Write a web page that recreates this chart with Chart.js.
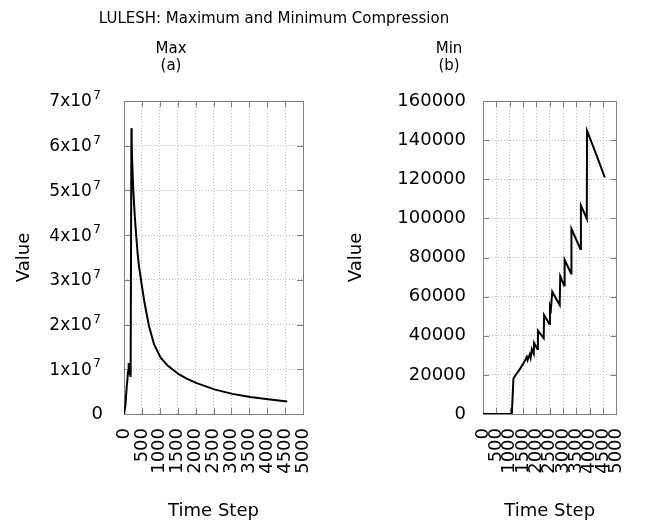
<!DOCTYPE html>
<html>
<head>
<meta charset="utf-8">
<title>LULESH: Maximum and Minimum Compression</title>
<script src="https://cdn.jsdelivr.net/npm/chart.js@4"></script>
<style>
  body { margin: 0; background: #fff; }
  #wrap { position: relative; width: 652px; height: 522px; font-family: "DejaVu Sans", sans-serif; }
  #mainTitle { position: absolute; left: 0; top: 11px; width: 548px; text-align: center; font-size: 15px; line-height: 15px; color: #000; }
  #maxChart { position: absolute; left: 0; top: 0; }
  #minChart { position: absolute; left: 246px; top: 0; }
</style>
</head>
<body>
<div id="wrap">
  <canvas id="maxChart" width="342" height="522"></canvas>
  <canvas id="minChart" width="406" height="522"></canvas>
  <div id="mainTitle">LULESH: Maximum and Minimum Compression</div>
</div>
<script>
// tick labels
const xTicks = [0, 500, 1000, 1500, 2000, 2500, 3000, 3500, 4000, 4500, 5000];
const maxTicks = [0, 1e7, 2e7, 3e7, 4e7, 5e7, 6e7, 7e7];
const minTicks = [0, 20000, 40000, 60000, 80000, 100000, 120000, 140000, 160000];

// (a) Max compression
const maxSteps = [0, 40, 75, 95, 112, 130, 150, 165, 185, 207, 212, 218, 230, 260, 295, 330, 380, 419, 512, 577, 698, 838, 1024, 1210, 1527, 1750, 2030, 2523, 3026, 3528, 4022, 4560];
const maxValues = [0, 2.0e6, 6.0e6, 7.7e6, 9.5e6, 1.14e7, 9.0e6, 1.02e7, 8.3e6, 6.39e7, 5.8e7, 6.05e7, 5.6e7, 5.0e7, 4.5e7, 4.1e7, 3.6e7, 3.3e7, 2.8e7, 2.47e7, 1.97e7, 1.56e7, 1.26e7, 1.09e7, 8.9e6, 7.9e6, 6.9e6, 5.5e6, 4.5e6, 3.8e6, 3.3e6, 2.8e6];

// (b) Min compression
const minSteps = [0, 1080, 1140, 1210, 1370, 1510, 1590, 1640, 1670, 1750, 1785, 1830, 1900, 1915, 2040, 2060, 2275, 2290, 2490, 2510, 2545, 2595, 2875, 2895, 3040, 3060, 3300, 3315, 3650, 3670, 3890, 3900, 4240, 4565];
const minValues = [0, 0, 18000, 19700, 22700, 25800, 27800, 29200, 27500, 30400, 28700, 33000, 30800, 36300, 33200, 42600, 38800, 50600, 46000, 55000, 53500, 62500, 55700, 70400, 65700, 78800, 71800, 94700, 84400, 106600, 99800, 144800, 132800, 120900];

Chart.defaults.font.family = "'DejaVu Sans', sans-serif";
Chart.defaults.color = "#000";

function toPoints(xs, ys) {
  return xs.map((x, i) => ({ x: x, y: ys[i] }));
}

// gnuplot-like frame with inward tick marks
const framePlugin = {
  id: "frame",
  beforeDatasetsDraw(chart) {
    const { ctx, chartArea: a, scales } = chart;
    ctx.save();
    ctx.strokeStyle = "#808080";
    ctx.lineWidth = 1;
    ctx.beginPath();
    scales.x.ticks.forEach(t => {
      const px = Math.round(scales.x.getPixelForValue(t.value)) + 0.5;
      ctx.moveTo(px, a.bottom); ctx.lineTo(px, a.bottom - 6);
      ctx.moveTo(px, a.top); ctx.lineTo(px, a.top + 6);
    });
    scales.y.ticks.forEach(t => {
      const py = Math.round(scales.y.getPixelForValue(t.value)) + 0.5;
      ctx.moveTo(a.left, py); ctx.lineTo(a.left + 6, py);
      ctx.moveTo(a.right, py); ctx.lineTo(a.right - 6, py);
    });
    ctx.stroke();
    ctx.strokeRect(Math.round(a.left) + 0.5, Math.round(a.top) + 0.5,
      Math.round(a.right - a.left), Math.round(a.bottom - a.top));
    ctx.restore();
  }
};

// y labels like 7x10^7 for the left panel
const sciLabels = {
  id: "sciLabels",
  afterDraw(chart) {
    const y = chart.scales.y;
    const ctx = chart.ctx;
    ctx.save();
    ctx.fillStyle = "#000";
    ctx.textAlign = "right";
    ctx.textBaseline = "middle";
    y.ticks.forEach(t => {
      const py = y.getPixelForValue(t.value);
      if (t.value === 0) {
        ctx.font = "18px 'DejaVu Sans'";
        ctx.fillText("0", 103, py);
        return;
      }
      const exp = Math.floor(Math.log10(t.value));
      const mant = Math.round(t.value / Math.pow(10, exp));
      ctx.font = "12px 'DejaVu Sans'";
      ctx.fillText(String(exp), 101, py - 5);
      const w = ctx.measureText(String(exp)).width;
      ctx.font = "17px 'DejaVu Sans'";
      ctx.fillText(mant + "x10", 101 - w - 1.5, py + 1);
    });
    ctx.restore();
  }
};

function xScale() {
  return {
    type: "linear",
    min: 0,
    max: 5000,
    afterBuildTicks: s => { s.ticks = xTicks.map(v => ({ value: v })); },
    afterFit: s => { s.height = 108; },
    grid: { color: "#bbbbbb", drawTicks: false },
    border: { display: false, dash: [1, 2] },
    ticks: { autoSkip: false, minRotation: 90, maxRotation: 90, padding: 14, font: { size: 18 }, callback: v => String(v) },
    title: { display: true, text: "Time Step", font: { size: 18 }, padding: { top: 0, bottom: 0 } }
  };
}

function panel(canvasId, title, steps, values, yTicks, yMax, pad, yWidth, yTitlePad, plugins, showTicks) {
  return new Chart(document.getElementById(canvasId), {
    type: "line",
    data: {
      datasets: [{
        data: toPoints(steps, values),
        borderColor: "#000",
        borderWidth: 2,
        pointRadius: 0,
        tension: 0,
        fill: false
      }]
    },
    options: {
      responsive: false,
      animation: false,
      layout: { padding: { left: pad.left, right: pad.right, top: 0, bottom: 0 } },
      plugins: {
        legend: { display: false },
        tooltip: { enabled: false },
        title: {
          display: true,
          text: title,
          color: "#000",
          font: { size: 15, weight: "normal", lineHeight: 17 / 15 },
          padding: { top: 41, bottom: 26 }
        }
      },
      scales: {
        x: xScale(),
        y: {
          type: "linear",
          min: 0,
          max: yMax,
          afterBuildTicks: s => { s.ticks = yTicks.map(v => ({ value: v })); },
          afterFit: s => { s.width = yWidth; },
          grid: { color: "#bbbbbb", drawTicks: false },
          border: { display: false, dash: [1, 2] },
          ticks: { display: showTicks, padding: 17, font: { size: 18 }, callback: v => String(v) },
          title: { display: true, text: "Value", font: { size: 18 }, padding: { top: yTitlePad, bottom: 0 } }
        }
      }
    },
    plugins: plugins
  });
}

panel("maxChart", ["Max", "(a)"], maxSteps, maxValues, maxTicks, 7e7, { left: 39, right: 39 }, 85, -25, [framePlugin, sciLabels], false);
panel("minChart", ["Min", "(b)"], minSteps, minValues, minTicks, 160000, { left: 15, right: 15 }, 222, 84.5, [framePlugin], true);
</script>
</body>
</html>
